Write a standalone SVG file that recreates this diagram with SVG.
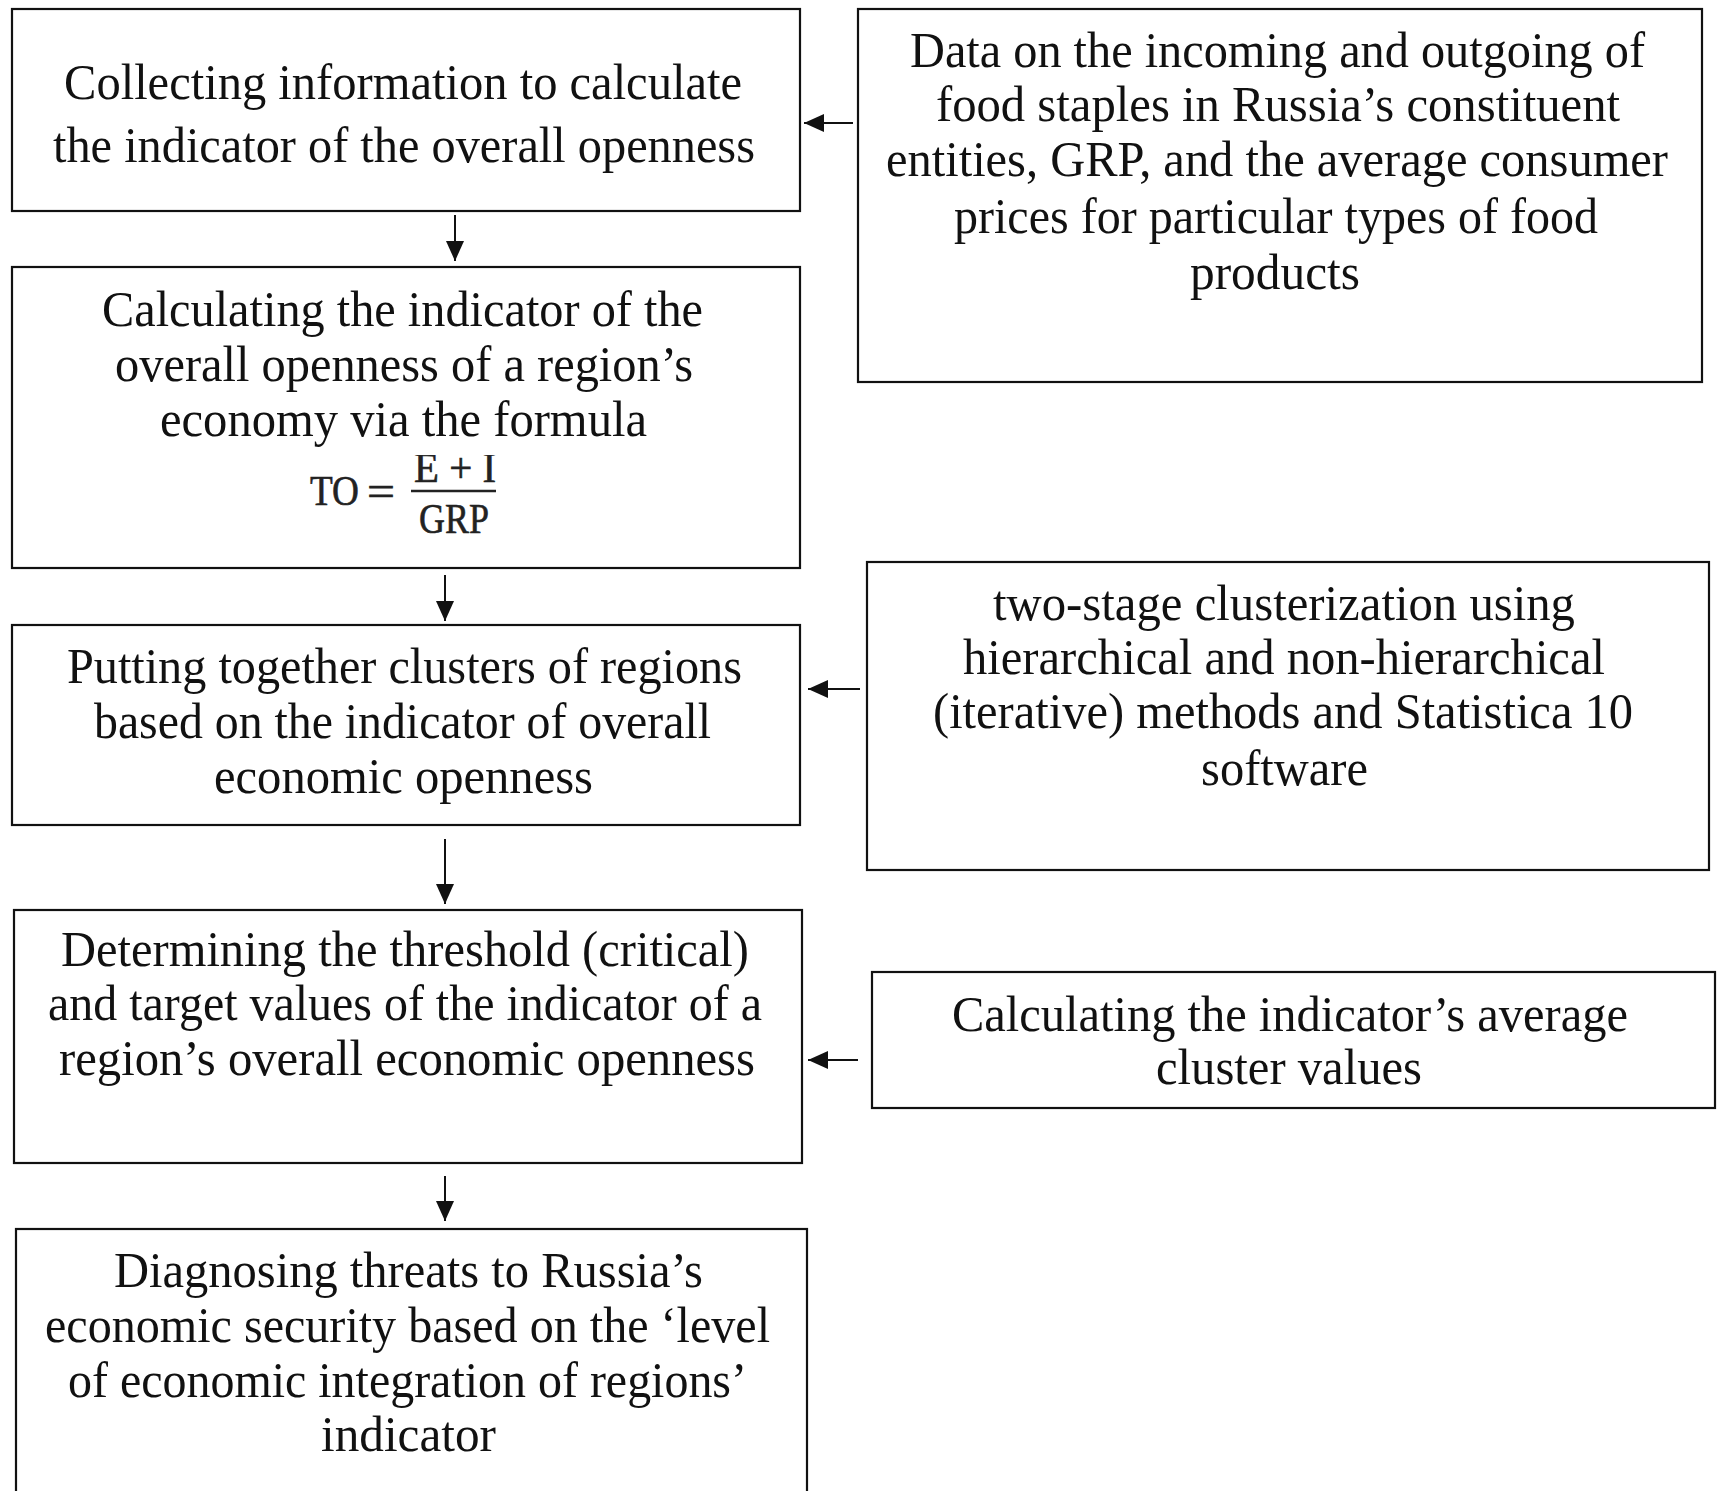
<svg xmlns="http://www.w3.org/2000/svg" width="1720" height="1491" viewBox="0 0 1720 1491">
<style>
.box{fill:#fff;stroke:#111;stroke-width:2.2}
.t{font-family:"Liberation Serif","Times New Roman",serif;font-size:50px;fill:#111}
.f{font-family:"Liberation Serif","Times New Roman",serif;font-size:42px;fill:#222;stroke:#222;stroke-width:0.6}
.c{stroke:#111;stroke-width:2;fill:none;marker-end:url(#ah)}
</style>
<defs>
<marker id="ah" markerUnits="userSpaceOnUse" markerWidth="22" markerHeight="18" refX="20" refY="9" orient="auto">
<path d="M0,0 L20,9 L0,18 Z" fill="#111"/>
</marker>
<clipPath id="numclip"><rect x="400" y="455" width="120" height="35"/></clipPath>
</defs>
<rect width="1720" height="1491" fill="#fff"/>

<g id="n1">
<rect class="box" x="12" y="9" width="788" height="202"/>
<text class="t" x="64" y="99" textLength="678" lengthAdjust="spacingAndGlyphs">Collecting information to calculate</text>
<text class="t" x="53" y="162" textLength="702" lengthAdjust="spacingAndGlyphs">the indicator of the overall openness</text>
</g>

<g id="n2">
<rect class="box" x="12" y="267" width="788" height="301"/>
<text class="t" x="102" y="326" textLength="601" lengthAdjust="spacingAndGlyphs">Calculating the indicator of the</text>
<text class="t" x="115" y="381" textLength="578" lengthAdjust="spacingAndGlyphs">overall openness of a region’s</text>
<text class="t" x="160" y="436" textLength="487" lengthAdjust="spacingAndGlyphs">economy via the formula</text>
<text class="f" x="310" y="505" textLength="49" lengthAdjust="spacingAndGlyphs">TO</text>
<text class="f" x="367" y="505" textLength="28" lengthAdjust="spacingAndGlyphs">=</text>
<g clip-path="url(#numclip)"><text class="f" x="414" y="482" font-size="34" textLength="82" lengthAdjust="spacingAndGlyphs">E + I</text></g>
<line x1="411" y1="491" x2="496" y2="491" stroke="#222" stroke-width="2.5"/>
<text class="f" x="419" y="533" textLength="70" lengthAdjust="spacingAndGlyphs">GRP</text>
</g>

<g id="n3">
<rect class="box" x="12" y="625" width="788" height="200"/>
<text class="t" x="67" y="683" textLength="675" lengthAdjust="spacingAndGlyphs">Putting together clusters of regions</text>
<text class="t" x="94" y="738" textLength="617" lengthAdjust="spacingAndGlyphs">based on the indicator of overall</text>
<text class="t" x="214" y="793" textLength="379" lengthAdjust="spacingAndGlyphs">economic openness</text>
</g>

<g id="n4">
<rect class="box" x="14" y="910" width="788" height="253"/>
<text class="t" x="61" y="966" textLength="688" lengthAdjust="spacingAndGlyphs">Determining the threshold (critical)</text>
<text class="t" x="48" y="1020" textLength="714" lengthAdjust="spacingAndGlyphs">and target values of the indicator of a</text>
<text class="t" x="59" y="1075" textLength="696" lengthAdjust="spacingAndGlyphs">region’s overall  economic openness</text>
</g>

<g id="n5">
<rect class="box" x="16" y="1229" width="791" height="300"/>
<text class="t" x="114" y="1287" textLength="589" lengthAdjust="spacingAndGlyphs">Diagnosing threats to Russia’s</text>
<text class="t" x="45" y="1342" textLength="725" lengthAdjust="spacingAndGlyphs">economic security based on the ‘level</text>
<text class="t" x="68" y="1397" textLength="679" lengthAdjust="spacingAndGlyphs">of economic integration of regions’</text>
<text class="t" x="321" y="1451" textLength="175" lengthAdjust="spacingAndGlyphs">indicator</text>
</g>

<g id="r1">
<rect class="box" x="858" y="9" width="844" height="373"/>
<text class="t" x="910" y="67" textLength="735" lengthAdjust="spacingAndGlyphs">Data on the incoming and outgoing of</text>
<text class="t" x="936" y="121" textLength="684" lengthAdjust="spacingAndGlyphs">food staples in Russia’s constituent</text>
<text class="t" x="886" y="176" textLength="782" lengthAdjust="spacingAndGlyphs">entities, GRP, and the average consumer</text>
<text class="t" x="954" y="233" textLength="644" lengthAdjust="spacingAndGlyphs">prices for particular types of food</text>
<text class="t" x="1190" y="289" textLength="170" lengthAdjust="spacingAndGlyphs">products</text>
</g>

<g id="r2">
<rect class="box" x="867" y="562" width="842" height="308"/>
<text class="t" x="993" y="620" textLength="582" lengthAdjust="spacingAndGlyphs">two-stage clusterization using</text>
<text class="t" x="963" y="674" textLength="642" lengthAdjust="spacingAndGlyphs">hierarchical and non-hierarchical</text>
<text class="t" x="933" y="728" textLength="700" lengthAdjust="spacingAndGlyphs">(iterative) methods and Statistica 10</text>
<text class="t" x="1201" y="785" textLength="167" lengthAdjust="spacingAndGlyphs">software</text>
</g>

<g id="r3">
<rect class="box" x="872" y="972" width="843" height="136"/>
<text class="t" x="952" y="1031" textLength="676" lengthAdjust="spacingAndGlyphs">Calculating the indicator’s average</text>
<text class="t" x="1156" y="1084" textLength="266" lengthAdjust="spacingAndGlyphs">cluster values</text>
</g>

<g id="connectors">
<line class="c" x1="455" y1="215" x2="455" y2="261"/>
<line class="c" x1="445" y1="575" x2="445" y2="621"/>
<line class="c" x1="445" y1="839" x2="445" y2="904"/>
<line class="c" x1="445" y1="1176" x2="445" y2="1221"/>
<line class="c" x1="853" y1="123" x2="804" y2="123"/>
<line class="c" x1="860" y1="689" x2="808" y2="689"/>
<line class="c" x1="858" y1="1060" x2="808" y2="1060"/>
</g>
</svg>
